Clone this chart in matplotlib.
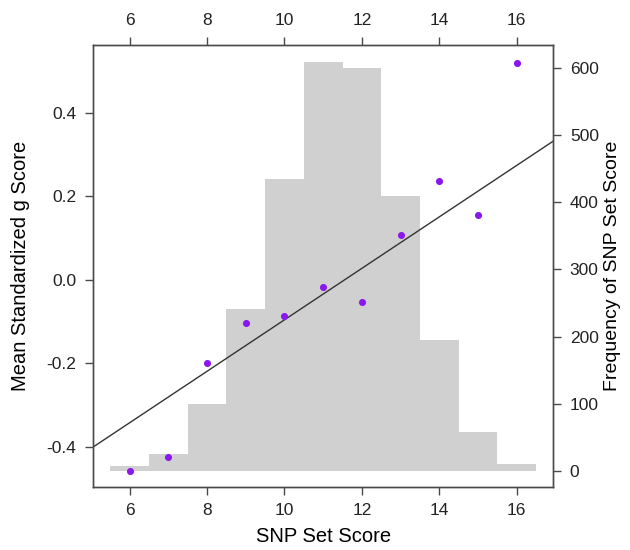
import numpy as np
import matplotlib.pyplot as plt

plt.rcParams['font.family'] = ['Liberation Sans', 'DejaVu Sans']

# donnees
score = [6, 7, 8, 9, 10, 11, 12, 13, 14, 15, 16]
freq = [7, 25, 100, 241, 434, 608, 600, 409, 195, 58, 11]
mean_g = [-0.459, -0.424, -0.200, -0.103, -0.088, -0.017, -0.054, 0.108, 0.236, 0.156, 0.519]

x = np.array(score, dtype=float)
y = np.array(mean_g)
n = np.array(freq, dtype=float)

# regression ponderee par la frequence
pente, inter = np.polyfit(x, y, 1, w=np.sqrt(n))

cor_eixo = '#4a4a4a'

fig = plt.figure(figsize=(6.3, 5.5), dpi=100)
ax = fig.add_axes([0.148, 0.115, 0.730, 0.803])
ax2 = ax.twinx()
ax.set_zorder(ax2.get_zorder() + 1)
ax.patch.set_visible(False)

# histogramme (axe de droite)
ax2.bar(x, n, width=1.0, color='#d0d0d0', linewidth=0)
ax2.set_ylim(-23.4, 633.8)
ax2.set_yticks([0, 100, 200, 300, 400, 500, 600])
ax2.set_ylabel('Frequency of SNP Set Score', fontsize=14, labelpad=4)

# points et droite (axe de gauche)
ax.axline((0, inter), slope=pente, color='#333333', linewidth=1.0)
ax.scatter(x, y, s=26, color='#8a17ec', zorder=3, linewidths=0)
ax.set_xlim(5.06, 16.94)
ax.set_ylim(-0.496, 0.562)
ax.set_xticks([6, 8, 10, 12, 14, 16])
ax.set_yticks([-0.4, -0.2, 0.0, 0.2, 0.4])
ax.set_yticklabels(['-0.4', '-0.2', '0.0', '0.2', '0.4'])
ax.set_xlabel('SNP Set Score', fontsize=14.5, labelpad=6)
ax.set_ylabel('Mean Standardized g Score', fontsize=14.5, labelpad=12)

for a in (ax, ax2):
    for s in a.spines.values():
        s.set_color(cor_eixo)
        s.set_linewidth(1.0)
    a.tick_params(direction='out', length=6, width=1.0, color=cor_eixo,
                  labelsize=12.5, labelcolor='#222222', pad=6)
ax.tick_params(axis='x', top=True, labeltop=True)

fig.savefig('out.png', dpi=100)
